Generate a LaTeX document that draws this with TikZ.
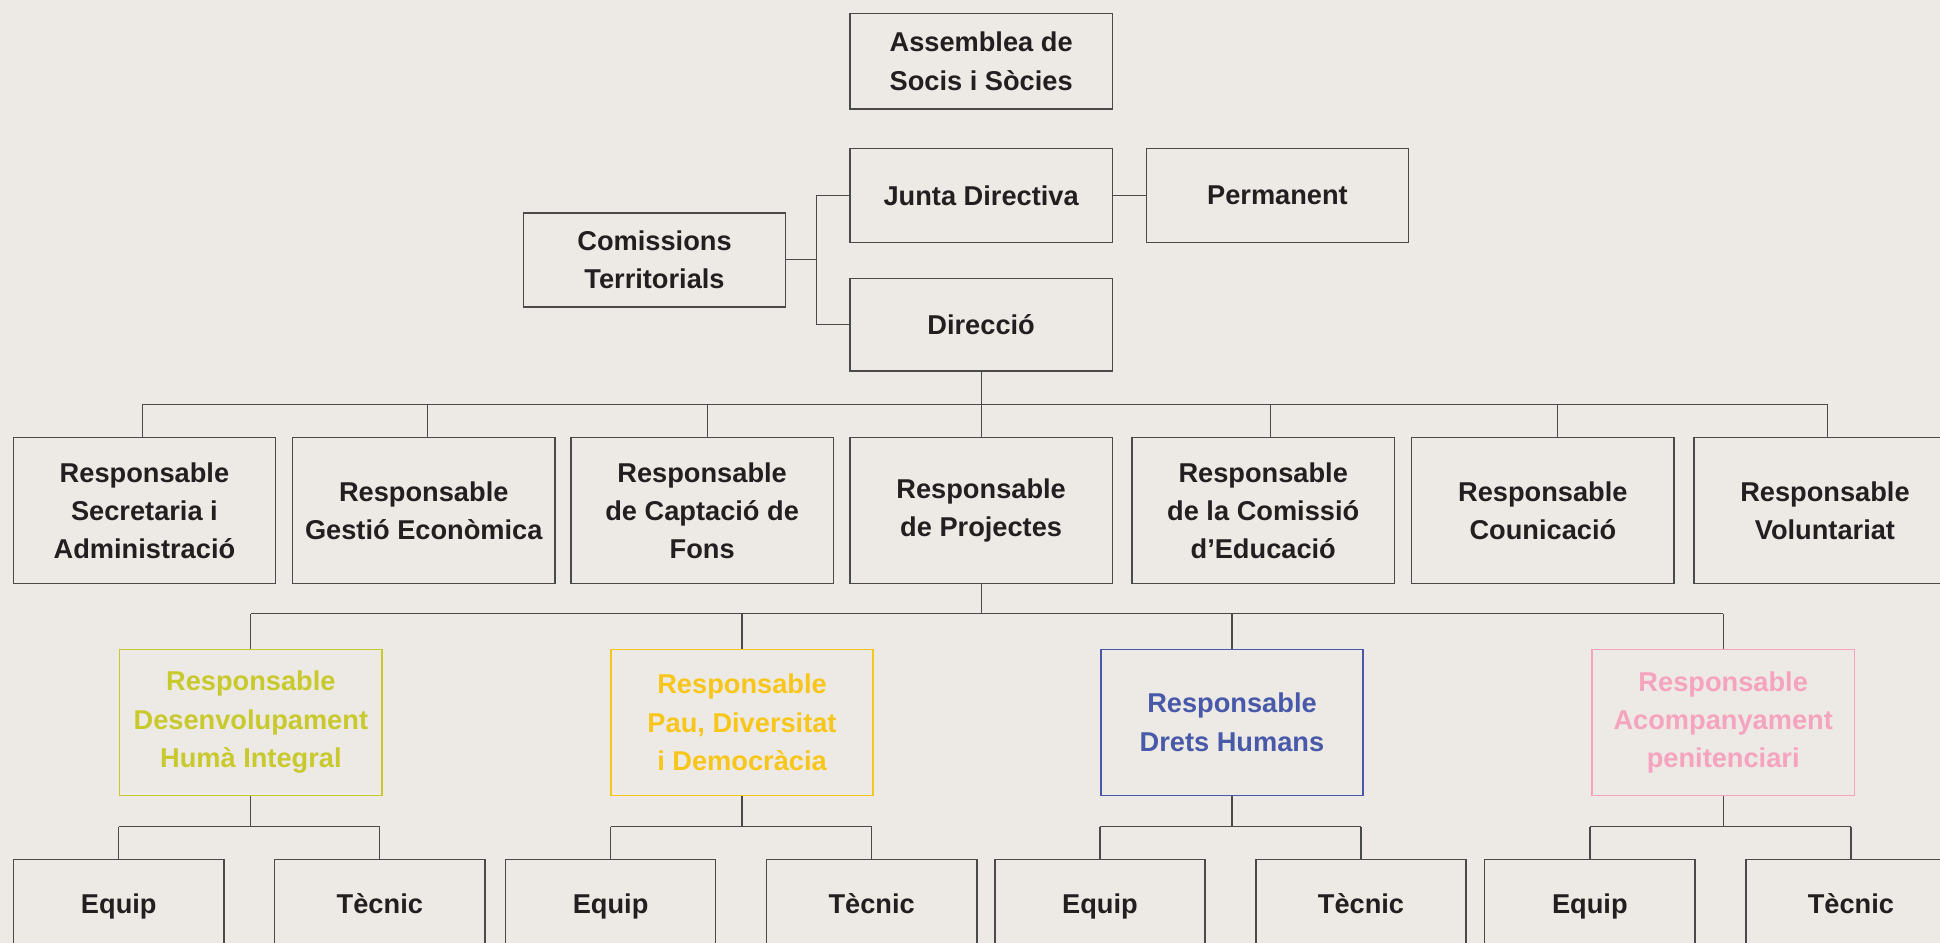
\documentclass[tikz,border=0pt]{standalone}
\usepackage{fontspec}
\usetikzlibrary{calc}
\setmainfont{Liberation Sans}
\definecolor{bg}{HTML}{EDEAE6}
\definecolor{linec}{HTML}{4A4A4A}
\definecolor{txt}{HTML}{231F20}
\definecolor{olive}{HTML}{C8C92C}
\definecolor{gold}{HTML}{F8C61A}
\definecolor{blu}{HTML}{4759A8}
\definecolor{pnk}{HTML}{F5A3BF}
\tikzset{
  bx/.style={draw=linec, line width=0.6pt, align=center, inner sep=0pt, text=txt, minimum width=106pt},
  hs/.style={minimum height=38pt},
  hl/.style={minimum height=59pt},
  sm/.style={bx, minimum width=85pt, minimum height=38pt, text height=8pt, text depth=2.4pt},
  ln/.style={draw=linec, line width=0.5pt},
  colbox/.style={bx, hl, draw=#1, text=#1}
}
\begin{document}
\begin{tikzpicture}[x=0.5pt,y=-0.5pt, font=\fontsize{11}{15.5}\selectfont\bfseries]
\useasboundingbox (0,0) rectangle (1568,762);
\fill[bg] (0,0) rectangle (1568,762);
\clip (0,0) rectangle (1568,762);

% top level
\node[bx,hs,minimum height=38.5pt] (ass) at (793,49.5) {Assemblea de\\Socis i Sòcies};
\node[bx,hs] (junta) at (793,158) {Junta Directiva};
\node[bx,hs] (perm) at (1032.5,158) {Permanent};
\node[bx,hs] (com) at (529,210) {Comissions\\Territorials};
\node[bx,hs,minimum height=37.5pt] (dir) at (793,262.5) {Direcció};

\coordinate (cj) at (660,210);
\draw[ln] (com.east) -- (cj);
\draw[ln] (junta.west) -| (cj);
\draw[ln] (dir.west) -| (cj);
\draw[ln] (junta.east) -- (perm.west);

% row 2
\node[bx,hl] (r1) at (116.75,412.75) {Responsable\\Secretaria i\\Administració};
\node[bx,hl] (r2) at (342.5,412.75) {Responsable\\Gestió Econòmica};
\node[bx,hl] (r3) at (567.5,412.75) {Responsable\\de Captació de\\Fons};
\node[bx,hl] (r4) at (793,412.75) {Responsable\\de Projectes};
\node[bx,hl] (r5) at (1021,412.75) {Responsable\\de la Comissió\\d’Educació};
\node[bx,hl] (r6) at (1247,412.75) {Responsable\\Counicació};
\node[bx,hl] (r7) at (1475,412.75) {Responsable\\Voluntariat};

\coordinate (bd) at (793,326.8);
\draw[ln] (dir.south) -- (bd);
\coordinate (b1) at (115,326.8);
\coordinate (b2) at (345.5,326.8);
\coordinate (b3) at (572,326.8);
\coordinate (b4) at (793,326.8);
\coordinate (b5) at (1027,326.8);
\coordinate (b6) at (1259,326.8);
\coordinate (b7) at (1477,326.8);
\draw[ln] (b1) -- (b7);
\foreach \i in {1,...,7} \draw[ln] (b\i) -- (b\i |- r\i.north);

% row 3
\node[colbox=olive] (c1) at (202.75,583.8) {Responsable\\Desenvolupament\\Humà Integral};
\node[colbox=gold] (c2) at (599.75,583.8) {Responsable\\Pau, Diversitat\\i Democràcia};
\node[colbox=blu] (c3) at (995.75,583.8) {Responsable\\Drets Humans};
\node[colbox=pnk] (c4) at (1392.75,583.8) {Responsable\\Acompanyament\\penitenciari};

\coordinate (p4) at (793,496);
\draw[ln] (r4.south) -- (p4);
\draw[ln] (c1.north |- p4) -- (c4.north |- p4);
\foreach \i in {1,...,4} \draw[ln] (c\i.north |- p4) -- (c\i.north);

% row 4
\node[sm] (e1) at (96,732.6) {Equip};
\node[sm] (t1) at (307,732.6) {Tècnic};
\node[sm] (e2) at (493.5,732.6) {Equip};
\node[sm] (t2) at (704.5,732.6) {Tècnic};
\node[sm] (e3) at (889,732.6) {Equip};
\node[sm] (t3) at (1100,732.6) {Tècnic};
\node[sm] (e4) at (1285,732.6) {Equip};
\node[sm] (t4) at (1496,732.6) {Tècnic};

\foreach \i in {1,...,4} {
  \coordinate (q\i) at ($(c\i.south)+(0,24.8)$);
  \draw[ln] (c\i.south) -- (q\i);
  \draw[ln] (e\i.north |- q\i) -- (t\i.north |- q\i);
  \draw[ln] (e\i.north |- q\i) -- (e\i.north);
  \draw[ln] (t\i.north |- q\i) -- (t\i.north);
}
\end{tikzpicture}
\end{document}
